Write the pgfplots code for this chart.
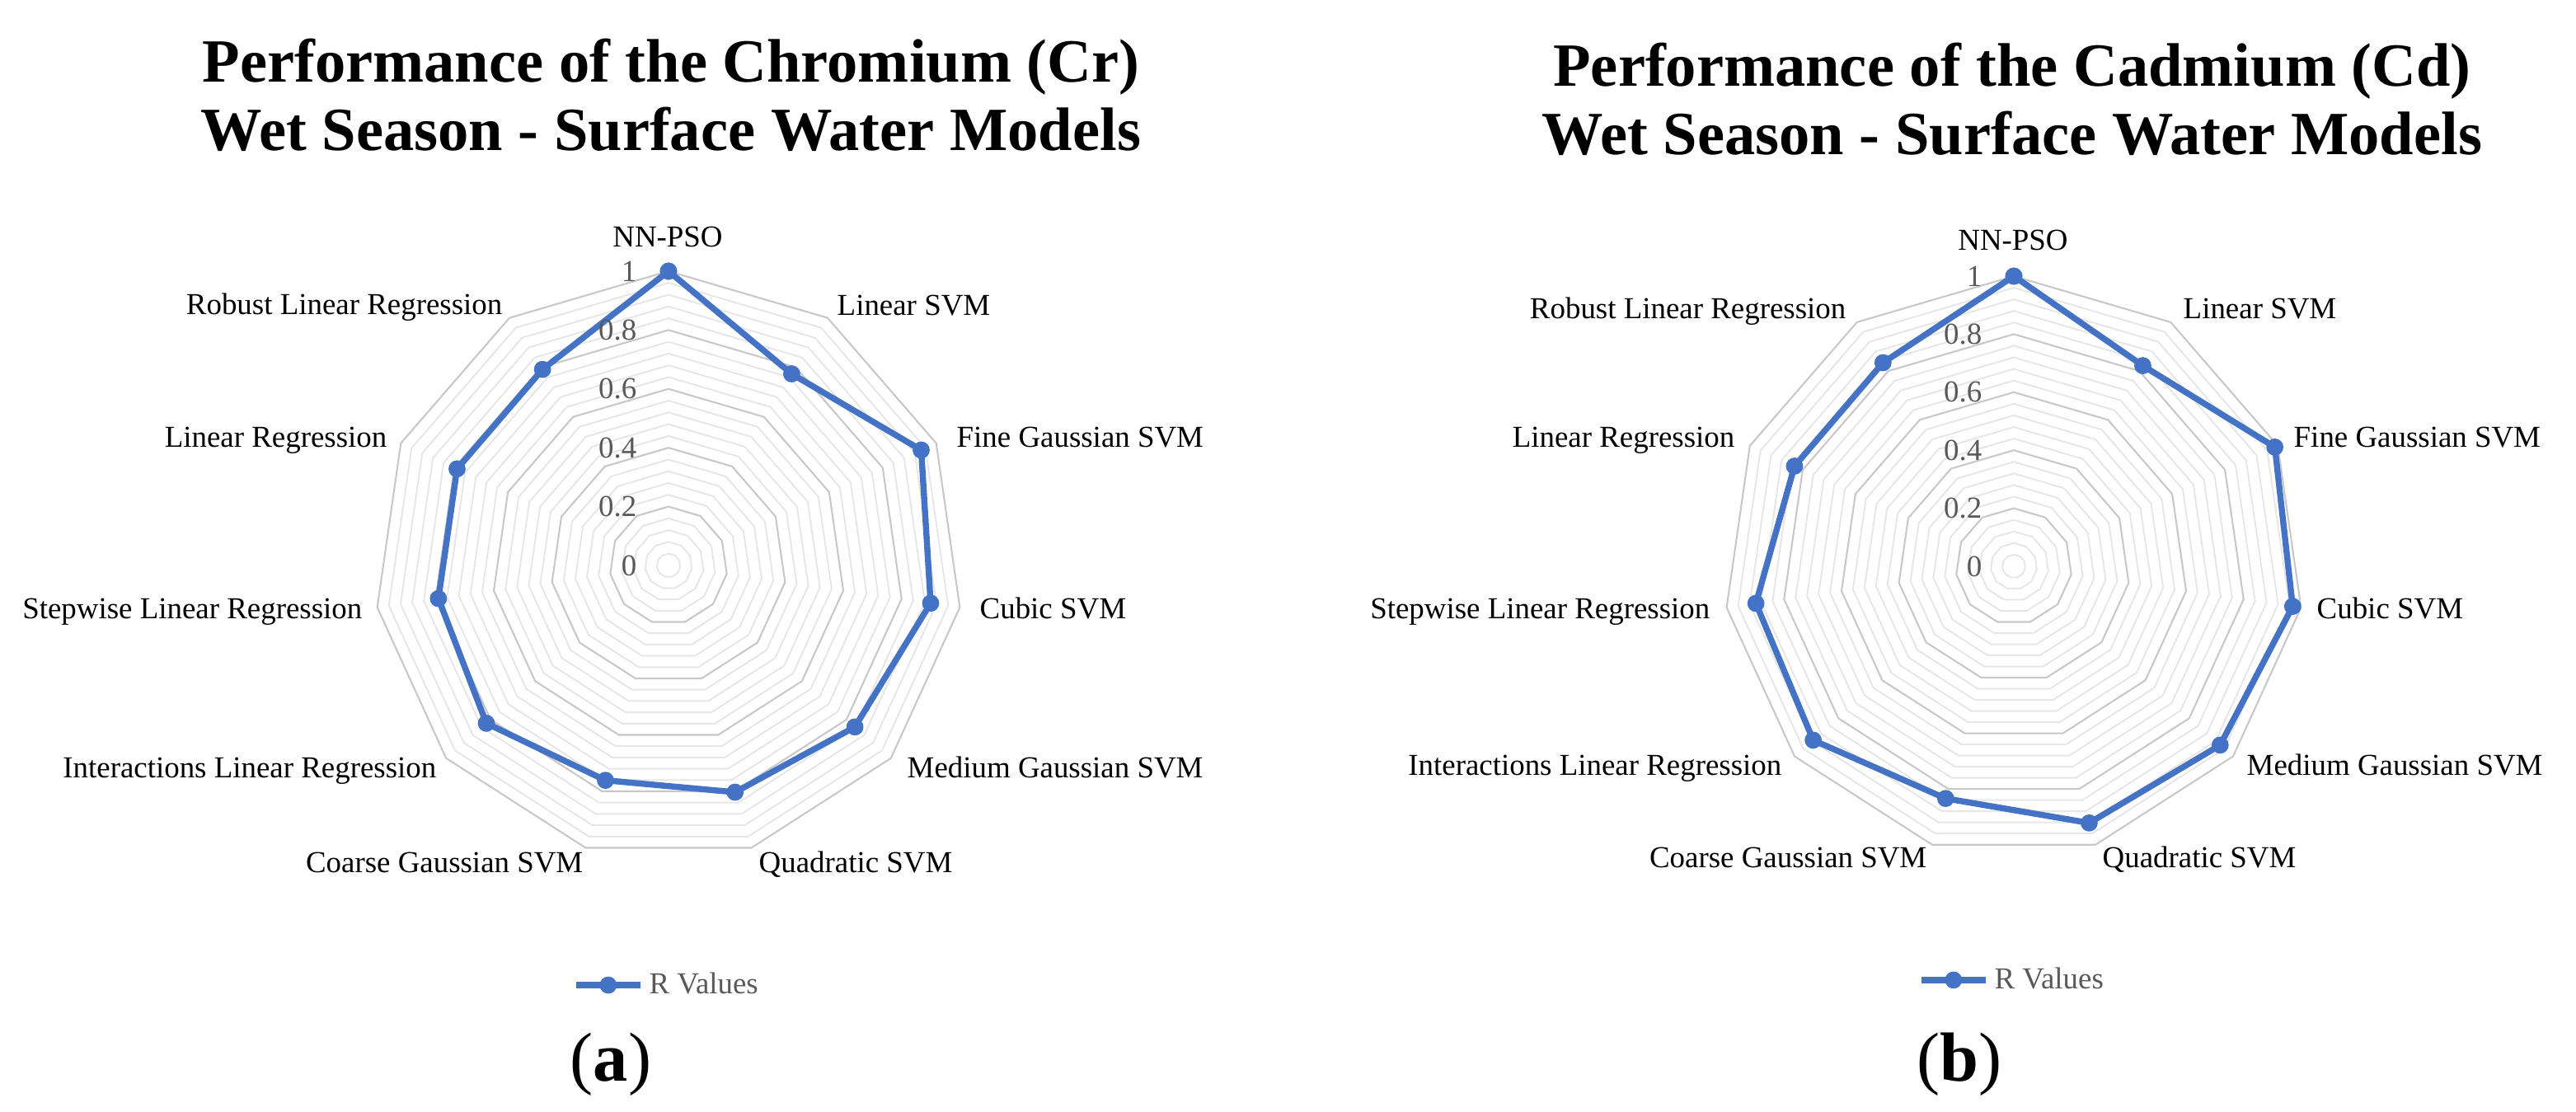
\documentclass[border=0pt]{standalone}
\usepackage{pgfplots}
\pgfplotsset{compat=1.18}
\usepgfplotslibrary{polar}
\usepackage{fontspec}
\setmainfont{Liberation Serif}
\definecolor{rblue}{HTML}{4472C4}
\definecolor{majg}{HTML}{C8C8C8}
\definecolor{ming}{HTML}{E6E6E6}
\definecolor{tickg}{HTML}{595959}
\newcommand\lab{\fontsize{10.5}{12}\selectfont}
\newcommand\ttl{\fontsize{21.2}{24}\selectfont\bfseries}

\pgfplotsset{
  radarstyle/.style={
    anchor=center, scale only axis,
    ymin=0, ymax=1,
    xtick=\empty, ytick=\empty,
    axis line style={draw=none},
    clip=false,
    legend style={at={(0.5,-0.213)}, anchor=center, draw=none, fill=none,
      font=\lab, text=tickg, inner sep=0pt, cells={anchor=west}},
    legend image code/.code={\draw[##1, mark repeat=2, mark phase=2]
      plot coordinates {(0cm,0cm) (0.39cm,0cm) (0.78cm,0cm)};},
  },
  serie/.style={rblue, line width=2.1pt, mark=*, mark size=2.7pt,
    mark options={fill=rblue, draw=rblue, line width=0.5pt}},
}

\newcommand\drawrings{%
  \pgfplotsinvokeforeach{0.04,0.08,0.12,0.16,0.24,0.28,0.32,0.36,0.44,0.48,0.52,0.56,0.64,0.68,0.72,0.76,0.84,0.88,0.92,0.96}{%
    \addplot[ming, line width=0.55pt, forget plot] coordinates {(90,##1) (57.2727,##1) (24.5455,##1) (351.8182,##1) (319.0909,##1) (286.3636,##1) (253.6364,##1) (220.9091,##1) (188.1818,##1) (155.4545,##1) (122.7273,##1) (90,##1)};
  }%
  \pgfplotsinvokeforeach{0.2,0.4,0.6,0.8,1}{%
    \addplot[majg, line width=0.6pt, forget plot] coordinates {(90,##1) (57.2727,##1) (24.5455,##1) (351.8182,##1) (319.0909,##1) (286.3636,##1) (253.6364,##1) (220.9091,##1) (188.1818,##1) (155.4545,##1) (122.7273,##1) (90,##1)};
  }%
}
\newcommand\ticklabels{%
  \pgfplotsinvokeforeach{0,0.2,0.4,0.6,0.8,1}{%
    \node[anchor=east, inner sep=0pt, xshift=-0.38cm, font=\lab, text=tickg] at (axis cs:90,##1) {##1};
  }%
}

\begin{document}
\begin{tikzpicture}
\useasboundingbox (0,0) rectangle (31.25cm,13.49cm);

% ---------------- (a) Chromium ----------------
\node[anchor=base, font=\ttl] at (8.14cm,12.49cm) {Performance of the Chromium (Cr)};
\node[anchor=base, font=\ttl] at (8.14cm,11.66cm) {Wet Season - Surface Water Models};

\begin{polaraxis}[radarstyle, at={(8.11cm,6.63cm)}, width=7.14cm, height=7.14cm]
\drawrings
\addplot[serie] coordinates {
  (90,1.000) (57.2727,0.774) (24.5455,0.944) (351.8182,0.900)
  (319.0909,0.838) (286.3636,0.803) (253.6364,0.761) (220.9091,0.819)
  (188.1818,0.790) (155.4545,0.790) (122.7273,0.792) (90,1.000)};
\addlegendentry{R Values}
\ticklabels
\end{polaraxis}

\begin{scope}[every node/.style={font=\lab, inner sep=0pt}]
\node[anchor=base] at (8.10cm,10.49cm) {NN-PSO};
\node[anchor=base east] at (6.10cm,9.67cm) {Robust Linear Regression};
\node[anchor=base west] at (10.15cm,9.66cm) {Linear SVM};
\node[anchor=base east] at (4.70cm,8.06cm) {Linear Regression};
\node[anchor=base west] at (11.60cm,8.06cm) {Fine Gaussian SVM};
\node[anchor=base east] at (4.40cm,5.98cm) {Stepwise Linear Regression};
\node[anchor=base west] at (11.88cm,5.98cm) {Cubic SVM};
\node[anchor=base east] at (5.30cm,4.05cm) {Interactions Linear Regression};
\node[anchor=base west] at (11.00cm,4.05cm) {Medium Gaussian SVM};
\node[anchor=base east] at (7.08cm,2.90cm) {Coarse Gaussian SVM};
\node[anchor=base west] at (9.20cm,2.90cm) {Quadratic SVM};
\end{scope}
\node[anchor=base, font=\fontsize{24}{28}\selectfont] at (7.41cm,0.37cm) {({\bfseries a})};

% ---------------- (b) Cadmium ----------------
\node[anchor=base, font=\ttl] at (24.41cm,12.44cm) {Performance of the Cadmium (Cd)};
\node[anchor=base, font=\ttl] at (24.41cm,11.61cm) {Wet Season - Surface Water Models};

\begin{polaraxis}[radarstyle, at={(24.43cm,6.62cm)}, width=7.04cm, height=7.04cm]
\drawrings
\addplot[serie] coordinates {
  (90,1.000) (57.2727,0.822) (24.5455,0.989) (351.8182,0.971)
  (319.0909,0.941) (286.3636,0.922) (253.6364,0.834) (220.9091,0.915)
  (188.1818,0.898) (155.4545,0.831) (122.7273,0.834) (90,1.000)};
\addlegendentry{R Values}
\ticklabels
\end{polaraxis}

\begin{scope}[every node/.style={font=\lab, inner sep=0pt}]
\node[anchor=base] at (24.42cm,10.45cm) {NN-PSO};
\node[anchor=base east] at (22.40cm,9.62cm) {Robust Linear Regression};
\node[anchor=base west] at (26.48cm,9.62cm) {Linear SVM};
\node[anchor=base east] at (21.05cm,8.06cm) {Linear Regression};
\node[anchor=base west] at (27.82cm,8.06cm) {Fine Gaussian SVM};
\node[anchor=base east] at (20.75cm,5.98cm) {Stepwise Linear Regression};
\node[anchor=base west] at (28.10cm,5.98cm) {Cubic SVM};
\node[anchor=base east] at (21.62cm,4.08cm) {Interactions Linear Regression};
\node[anchor=base west] at (27.25cm,4.08cm) {Medium Gaussian SVM};
\node[anchor=base east] at (23.38cm,2.96cm) {Coarse Gaussian SVM};
\node[anchor=base west] at (25.50cm,2.96cm) {Quadratic SVM};
\end{scope}
\node[anchor=base, font=\fontsize{24}{28}\selectfont] at (23.77cm,0.37cm) {({\bfseries b})};
\end{tikzpicture}
\end{document}
